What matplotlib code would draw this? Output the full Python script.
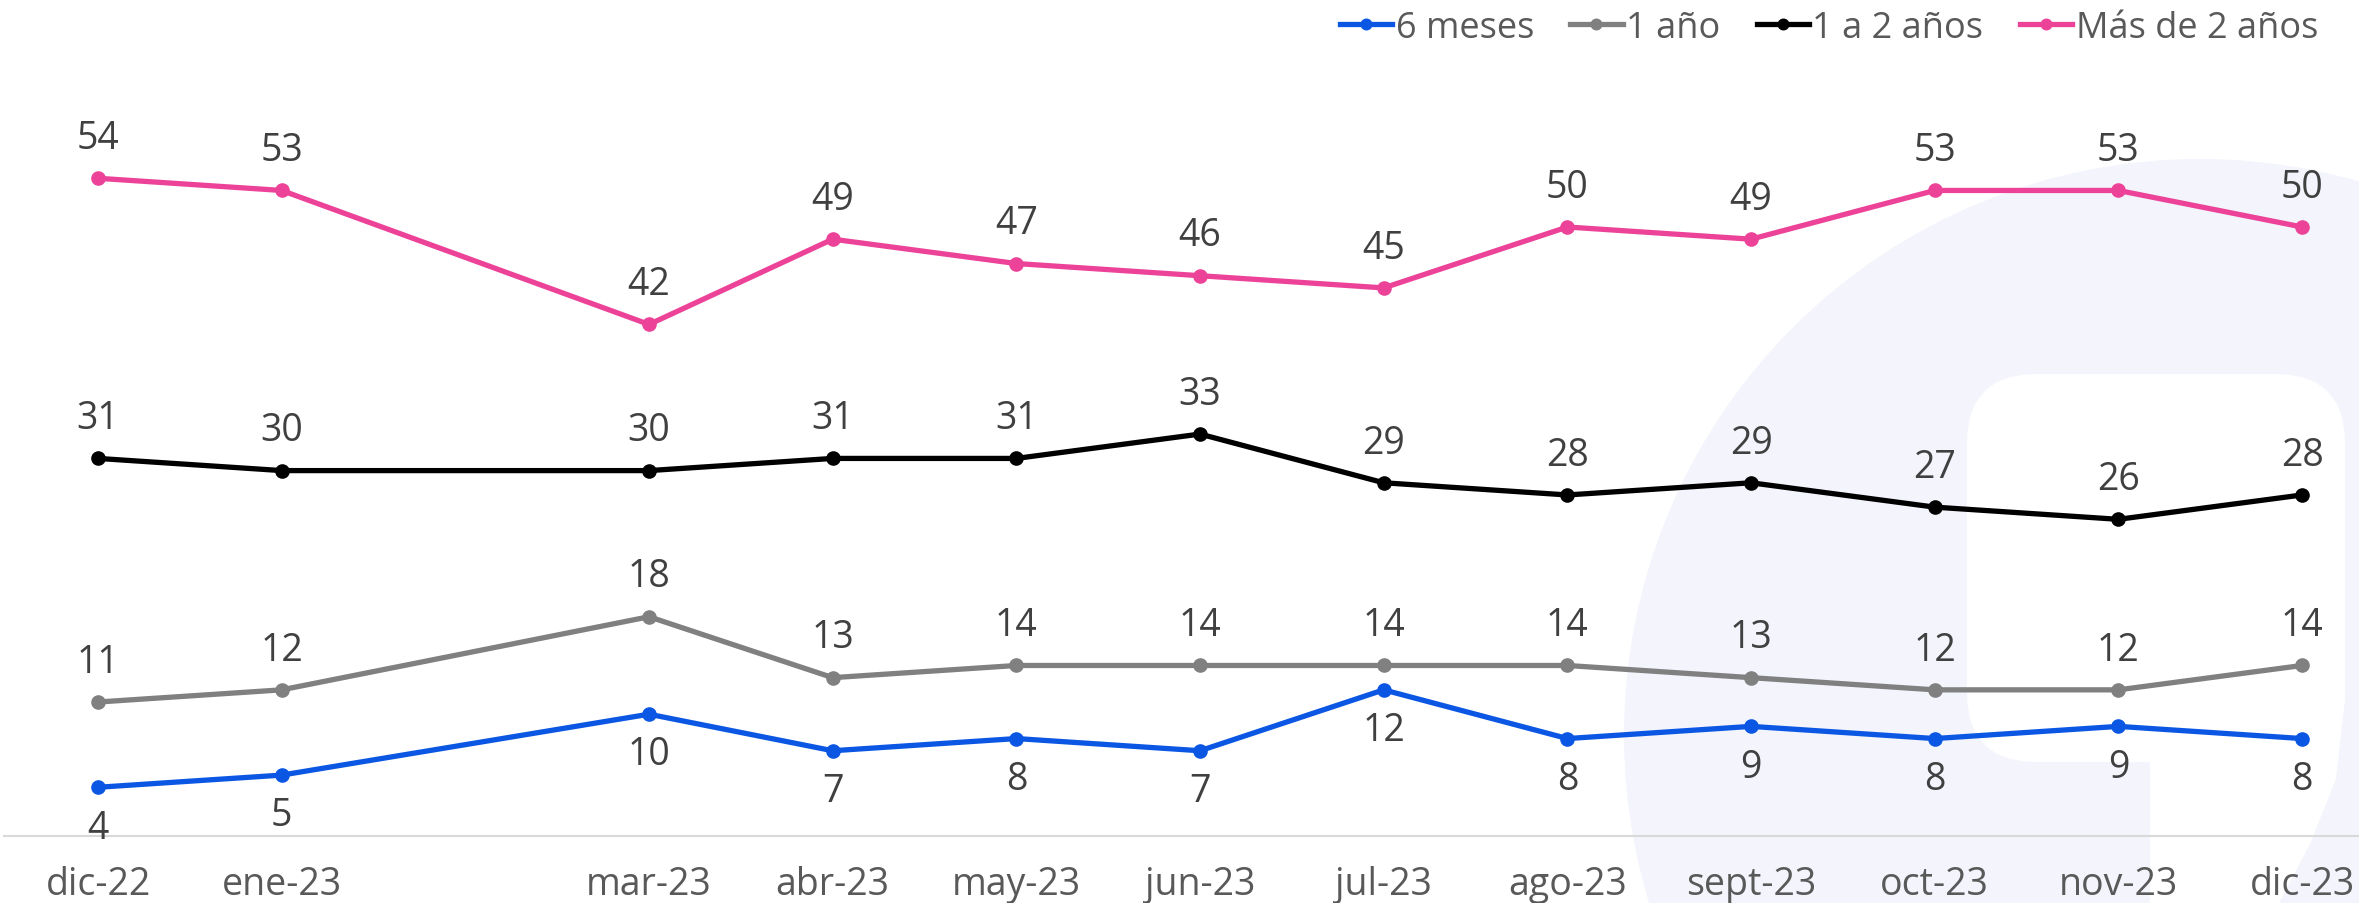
import matplotlib
matplotlib.use("Agg")
import matplotlib.pyplot as plt
from matplotlib.patches import Circle, FancyBboxPatch, Polygon

plt.rcParams["font.family"] = ["Open Sans", "DejaVu Sans"]

# month index from dic-22 (feb-23 has no survey)
month_pos = [0, 1, 3, 4, 5, 6, 7, 8, 9, 10, 11, 12]
month_labels = ["dic-22", "ene-23", "mar-23", "abr-23", "may-23", "jun-23",
                "jul-23", "ago-23", "sept-23", "oct-23", "nov-23", "dic-23"]

seis_meses = [4, 5, 10, 7, 8, 7, 12, 8, 9, 8, 9, 8]
un_anio = [11, 12, 18, 13, 14, 14, 14, 14, 13, 12, 12, 14]
uno_a_dos = [31, 30, 30, 31, 31, 33, 29, 28, 29, 27, 26, 28]
mas_de_dos = [54, 53, 42, 49, 47, 46, 45, 50, 49, 53, 53, 50]

series = [
    ("6 meses", seis_meses, "#0B57E3", "below"),
    ("1 año", un_anio, "#808080", "above"),
    ("1 a 2 años", uno_a_dos, "#000000", "above"),
    ("Más de 2 años", mas_de_dos, "#EC4399", "above"),
]

W, H = 2359, 904
fig = plt.figure(figsize=(W / 100, H / 100), dpi=100)

# faint logo in the background
bg = fig.add_axes([0, 0, 1, 1], zorder=0)
bg.set_xlim(0, W)
bg.set_ylim(H, 0)
bg.axis("off")
lav = "#F3F4FC"
bg.add_patch(Circle((2200, 736), 576, color=lav, lw=0))
bg.add_patch(FancyBboxPatch((1967, 375), 2345 - 1967, 763 - 375,
                            boxstyle="round,pad=0,rounding_size=70",
                            color="white", lw=0))
bg.add_patch(Polygon([(2150, 700), (2345, 700), (2336, 780), (2310, 845),
                      (2279, 904), (2150, 904)], closed=True,
                     color="white", lw=0))
bg.add_patch(FancyBboxPatch((1900, 763), 250, 300,
                            boxstyle="round,pad=0,rounding_size=70",
                            color=lav, lw=0))

ax = fig.add_axes([4 / W, (H - 837) / H, (W - 4) / W, (837 - 60) / H], zorder=1)
ax.patch.set_visible(False)

for name, vals, color, side in series:
    ax.plot(month_pos, vals, color=color, lw=3.8, marker="o", ms=9.5,
            label=name, solid_joinstyle="round")
    for i, (x, v) in enumerate(zip(month_pos, vals)):
        off = 29 if side == "above" else -29
        ax.annotate(str(v), (x, v), xytext=(0, off), textcoords="offset points",
                    ha="center", va="center", fontsize=27, color="#404040")

ax.set_xlim(-0.512, 12.31)
ax.set_ylim(0, (837 - 60) / 12.18)
ax.set_xticks(month_pos)
ax.set_xticklabels(month_labels)
ax.tick_params(axis="x", length=0, pad=21, labelsize=27, labelcolor="#595959")
ax.set_yticks([])
for s in ["top", "left", "right"]:
    ax.spines[s].set_visible(False)
ax.spines["bottom"].set_color("#D9D9D9")
ax.spines["bottom"].set_linewidth(1.5)

fig.legend(loc="center right", bbox_to_anchor=(2336 / W, 1 - 29 / H), ncol=4,
           frameon=False, fontsize=26, handlelength=1.45, handletextpad=0.1,
           columnspacing=1.0, borderpad=0, labelcolor="#595959", markerscale=0.8)

fig.savefig("out.png", dpi=100)
